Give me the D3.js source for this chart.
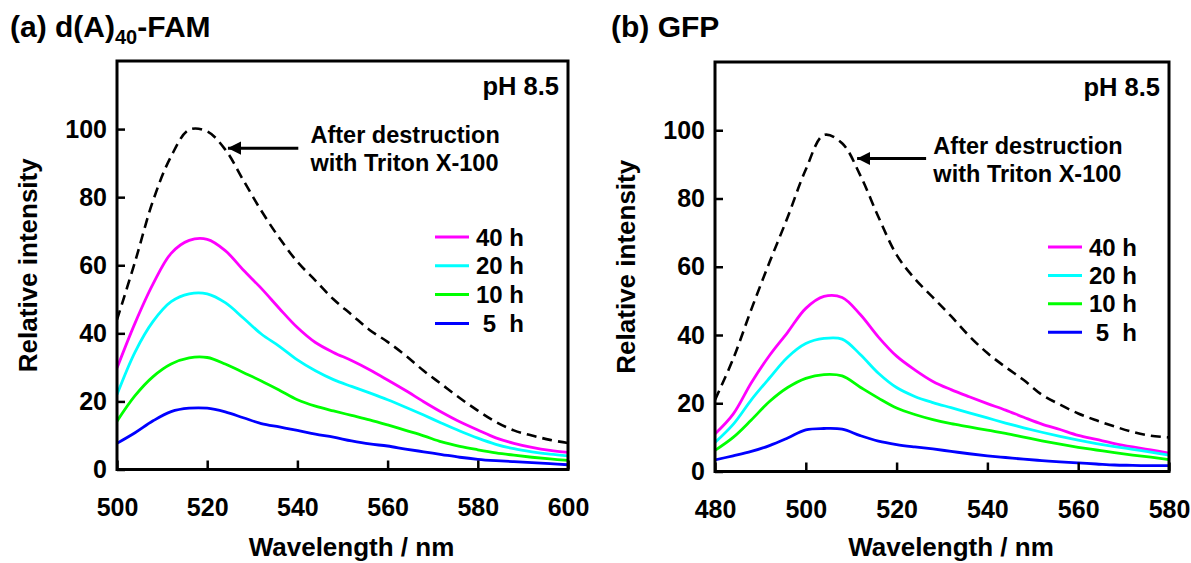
<!DOCTYPE html>
<html>
<head>
<meta charset="utf-8">
<script src="https://cdn.jsdelivr.net/npm/d3@7"></script>
<style>
  body { margin: 0; background: #fff; }
  svg { display: block; font-family: "Liberation Sans", Arial, sans-serif; font-weight: bold; }
</style>
</head>
<body>
<svg id="chart" width="1191" height="563"></svg>
<script>

// ---- data ----
// (a) d(A)40-FAM, emission 500-600 nm
const famWavelength = [500, 504, 508, 512, 516, 520, 524, 528, 532, 536, 540, 544, 548,
                       552, 556, 560, 564, 568, 572, 576, 580, 584, 588, 592, 596, 600];
const famTriton = [44, 61, 79, 92, 99.8, 99.3, 94, 85, 76, 68, 61, 55.5, 50,
                   45.5, 41, 37.5, 33.5, 29, 25, 21, 17.3, 14, 11.5, 10, 8.7, 7.8];
const fam40h = [29.8, 43, 54.5, 63.5, 67.3, 67.6, 64.3, 58.6, 53.2, 47.3, 41.7, 37.3, 34.4,
                32, 29.3, 26.3, 23.2, 19.9, 16.8, 14, 11.6, 9.3, 7.7, 6.5, 5.6, 5.0];
const fam20h = [22, 34.5, 43.5, 49.3, 51.6, 51.6, 49, 44.5, 39.8, 36.2, 32.2, 29, 26.4,
                24.4, 22.5, 20.5, 18.3, 16, 13.6, 11.3, 9.2, 7.4, 6.1, 5.2, 4.5, 4.0];
const fam10h = [14.2, 21.7, 27.3, 31, 32.8, 32.9, 31, 28.5, 26, 23.3, 20.5, 18.6, 17.2,
                15.9, 14.6, 13.1, 11.5, 9.9, 8.1, 6.8, 5.8, 4.9, 4.2, 3.6, 3.1, 2.7];
const fam5h = [7.7, 10.8, 14.3, 17, 18, 18, 16.9, 15.2, 13.5, 12.5, 11.5, 10.4, 9.5,
               8.4, 7.5, 6.9, 6.0, 5.2, 4.4, 3.6, 3.0, 2.6, 2.3, 2.0, 1.7, 1.4];

// (b) GFP, emission 480-580 nm
const gfpWavelength = [480, 484, 488, 492, 496, 500, 504, 508, 512, 516, 520, 524, 528,
                       532, 536, 540, 544, 548, 552, 556, 560, 564, 568, 572, 576, 580];
const gfpTriton = [21, 33, 47.5, 61.3, 74.5, 88.5, 98.6, 96.2, 86.8, 74.6, 63.5, 56.5, 51,
                   45.5, 39.7, 34.7, 30.6, 26.8, 22.5, 19.6, 17, 15, 13.2, 11.6, 10.5, 10];
const gfp40h = [11, 16.8, 26, 34, 40.8, 47.8, 51.3, 51, 46, 39.4, 33.8, 29.8, 26.4,
                24, 21.9, 19.9, 18, 15.9, 13.9, 12.3, 10.6, 9.4, 8.2, 7.2, 6.3, 5.4];
const gfp20h = [8.5, 13.8, 21, 27.4, 33.5, 37.5, 39, 38.8, 34.3, 28.8, 24.6, 22, 20.2,
                18.7, 17.2, 15.7, 14.2, 12.8, 11.5, 10.3, 9.2, 8.2, 7.3, 6.5, 5.7, 4.8];
const gfp10h = [6.2, 10, 15.1, 20.5, 24.6, 27.3, 28.4, 28, 24.7, 21.5, 18.6, 16.7, 15.2,
                14, 13.1, 12.1, 11.2, 10.1, 9, 8, 7.1, 6.3, 5.5, 4.8, 4.2, 3.5];
const gfp5h = [3.4, 4.6, 5.9, 7.6, 9.8, 12.2, 12.6, 12.4, 10.5, 8.9, 7.9, 7.2, 6.6,
               5.9, 5.2, 4.6, 4.1, 3.6, 3.2, 2.8, 2.5, 2.2, 1.9, 1.8, 1.7, 1.7];

const timeLabels = ["40 h", "20 h", "10 h", " 5  h"];
const timeColors = ["#ff00ff", "#00ffff", "#00ff00", "#0000ff"];
const yTicks = [0, 20, 40, 60, 80, 100];
const famTicks = [500, 520, 540, 560, 580, 600];
const gfpTicks = [480, 500, 520, 540, 560, 580];

// ---- layout ----
const panels = [
  {
    id: "a", title: ["(a) d(A)", "40", "-FAM"], titleX: 10,
    left: 117, right: 568, top: 61, bottom: 469.5,
    xDomain: [500, 600], xTicks: famTicks,
    wl: famWavelength, triton: famTriton, series: [fam40h, fam20h, fam10h, fam5h],
    arrow: { tip: [524.6, 94.4], tail: 540.2 }, note: [542.9, 95.9],
    legend: { x: 435, y: 237, dy: 28.8 }
  },
  {
    id: "b", title: ["(b) GFP"], titleX: 611,
    left: 715, right: 1169, top: 62, bottom: 471.5,
    xDomain: [480, 580], xTicks: gfpTicks,
    wl: gfpWavelength, triton: gfpTriton, series: [gfp40h, gfp20h, gfp10h, gfp5h],
    arrow: { tip: [511.3, 91.7], tail: 526.5 }, note: [528.1, 92.9],
    legend: { x: 1048, y: 247, dy: 28.4 }
  }
];

const svg = d3.select("#chart");
svg.append("rect").attr("width", 1191).attr("height", 563).attr("fill", "#fff");

svg.append("defs").append("marker")
  .attr("id", "head")
  .attr("viewBox", "0 -5 10 10")
  .attr("refX", 10)
  .attr("refY", 0)
  .attr("markerWidth", 4.4)
  .attr("markerHeight", 7)
  .attr("markerUnits", "strokeWidth")
  .attr("orient", "auto")
  .append("path")
  .attr("d", "M0,-5L10,0L0,5Z")
  .attr("fill", "#000");

panels.forEach((p) => {
  const x = d3.scaleLinear().domain(p.xDomain).range([p.left, p.right]);
  const y = d3.scaleLinear().domain([0, 120]).range([p.bottom, p.top]);
  const g = svg.append("g").attr("class", "panel-" + p.id);

  // title with subscript
  const t = g.append("text")
    .attr("x", p.titleX)
    .attr("y", 37)
    .attr("font-size", 30);
  t.append("tspan").text(p.title[0]);
  if (p.title.length > 1) {
    t.append("tspan").attr("font-size", 20).attr("dy", 7).text(p.title[1]);
    t.append("tspan").attr("dy", -7).text(p.title[2]);
  }

  g.append("clipPath").attr("id", "clip-" + p.id)
    .append("rect")
    .attr("x", p.left).attr("y", p.top)
    .attr("width", p.right - p.left).attr("height", p.bottom - p.top);

  const line = d3.line()
    .x((d, i) => x(p.wl[i]))
    .y((d) => y(d))
    .curve(d3.curveCatmullRom.alpha(0.5));

  const curves = g.append("g").attr("clip-path", "url(#clip-" + p.id + ")");

  curves.append("path")
    .attr("d", line(p.triton))
    .attr("fill", "none")
    .attr("stroke", "#000")
    .attr("stroke-width", 2.6)
    .attr("stroke-dasharray", "10,6");

  curves.selectAll(".series")
    .data(p.series)
    .enter().append("path")
    .attr("class", "series")
    .attr("d", (s) => line(s))
    .attr("fill", "none")
    .attr("stroke", (s, i) => timeColors[i])
    .attr("stroke-width", 2.8);

  // axes, ticks pointing inward
  const xAxis = g.append("g")
    .attr("transform", "translate(0," + p.bottom + ")")
    .call(d3.axisBottom(x).tickValues(p.xTicks).tickSize(-9).tickPadding(29).tickFormat(d3.format("d")));
  const yAxis = g.append("g")
    .attr("transform", "translate(" + p.left + ",0)")
    .call(d3.axisLeft(y).tickValues(yTicks).tickSize(-8).tickPadding(10).tickFormat(d3.format("d")));

  [xAxis, yAxis].forEach((ax) => {
    ax.select(".domain").remove();
    ax.selectAll(".tick line").attr("stroke", "#000").attr("stroke-width", 2.5);
    ax.selectAll(".tick text")
      .attr("font-size", 25)
      .attr("font-family", "'Liberation Sans', Arial, sans-serif")
      .attr("font-weight", "bold")
      .attr("fill", "#000");
  });

  g.append("rect")
    .attr("x", p.left).attr("y", p.top)
    .attr("width", p.right - p.left).attr("height", p.bottom - p.top)
    .attr("fill", "none")
    .attr("stroke", "#000")
    .attr("stroke-width", 3);

  // axis titles
  g.append("text")
    .attr("x", (p.left + p.right) / 2 + 9)
    .attr("y", 556)
    .attr("text-anchor", "middle")
    .attr("font-size", 26)
    .text("Wavelength / nm");

  g.append("text")
    .attr("transform", "translate(" + (p.left - 80) + "," + ((p.top + p.bottom) / 2) + ") rotate(-90)")
    .attr("text-anchor", "middle")
    .attr("font-size", 26)
    .text("Relative intensity");

  // pH label
  g.append("text")
    .attr("x", p.right - 9)
    .attr("y", p.top + 34)
    .attr("text-anchor", "end")
    .attr("font-size", 25.5)
    .text("pH 8.5");

  // annotation arrow + text
  g.append("line")
    .attr("x1", x(p.arrow.tail)).attr("y1", y(p.arrow.tip[1]))
    .attr("x2", x(p.arrow.tip[0])).attr("y2", y(p.arrow.tip[1]))
    .attr("stroke", "#000")
    .attr("stroke-width", 3)
    .attr("marker-end", "url(#head)");

  const note = g.append("text")
    .attr("x", x(p.note[0]))
    .attr("y", y(p.note[1]))
    .attr("font-size", 23.5);
  note.append("tspan").text("After destruction");
  note.append("tspan").attr("x", x(p.note[0])).attr("dy", 28).text("with Triton X-100");

  // legend
  const leg = g.selectAll(".leg")
    .data(timeLabels)
    .enter().append("g")
    .attr("class", "leg")
    .attr("transform", (d, i) => "translate(" + p.legend.x + "," + (p.legend.y + i * p.legend.dy) + ")");
  leg.append("line")
    .attr("x1", 0).attr("x2", 34)
    .attr("stroke", (d, i) => timeColors[i])
    .attr("stroke-width", 3);
  leg.append("text")
    .attr("x", 41)
    .attr("y", 8.5)
    .attr("font-size", 24)
    .style("white-space", "pre")
    .text((d) => d);
});

</script>
</body>
</html>
